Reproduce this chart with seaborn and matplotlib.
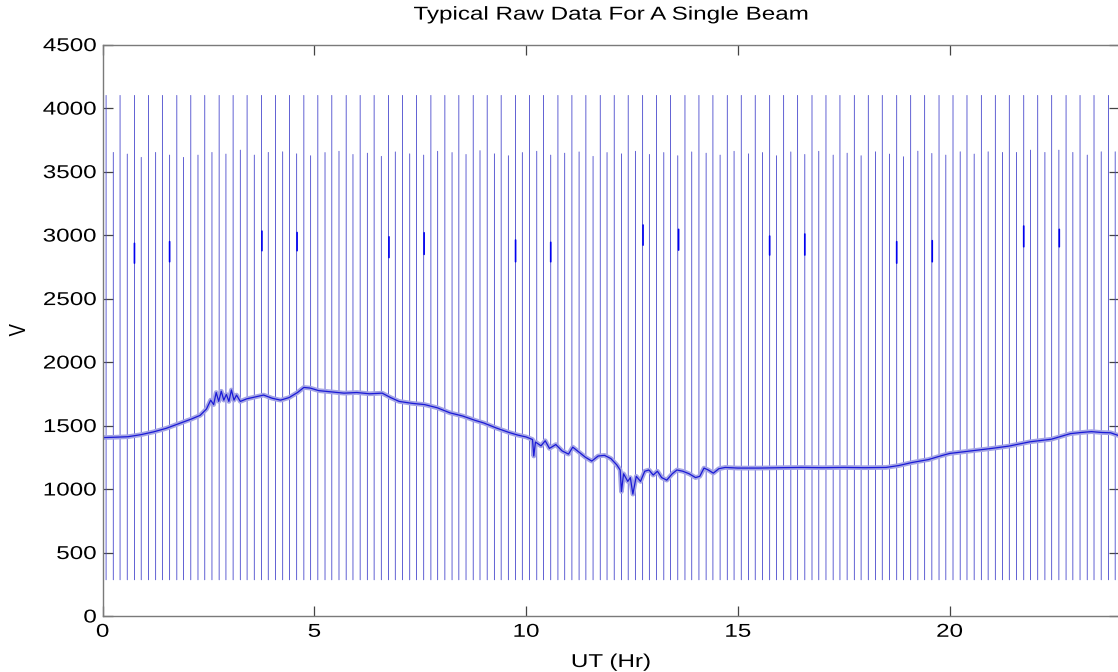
import numpy as np
import pandas as pd
import matplotlib
matplotlib.use("Agg")
import matplotlib.pyplot as plt
import seaborn as sns
from matplotlib import patheffects
from matplotlib.transforms import Affine2D

# ---------------- data ----------------
base_t = [0.0, 0.3, 0.6, 0.9, 1.2, 1.5, 1.8, 2.1, 2.3, 2.45,
          2.55, 2.62, 2.68, 2.74, 2.80, 2.86, 2.92, 2.98, 3.04, 3.10,
          3.16, 3.25, 3.4, 3.6, 3.8, 4.0, 4.2, 4.4, 4.6, 4.75,
          4.9, 5.1, 5.4, 5.7, 6.0, 6.3, 6.6, 6.8, 7.0, 7.3,
          7.6, 7.9, 8.2, 8.5, 8.8, 9.0, 9.3, 9.6, 9.8, 10.0,
          10.15, 10.18, 10.22, 10.35, 10.45, 10.55, 10.7, 10.85, 11.0, 11.1,
          11.25, 11.4, 11.55, 11.7, 11.85, 12.0, 12.14, 12.22, 12.25, 12.3,
          12.4, 12.46, 12.52, 12.6, 12.7, 12.8, 12.9, 13.0, 13.1, 13.2,
          13.32, 13.45, 13.56, 13.7, 13.85, 14.0, 14.1, 14.2, 14.3, 14.42,
          14.55, 14.7, 15.0, 15.5, 16.0, 16.5, 17.0, 17.5, 18.0, 18.5,
          18.8, 19.1, 19.5, 19.8, 20.0, 20.5, 21.0, 21.4, 21.9, 22.4,
          22.85, 23.1, 23.35, 23.6, 23.8, 24.0]
base_v = [1405, 1408, 1412, 1428, 1450, 1478, 1515, 1552, 1580, 1630,
          1700, 1665, 1760, 1690, 1770, 1700, 1745, 1690, 1780, 1700,
          1740, 1690, 1710, 1725, 1740, 1715, 1700, 1720, 1760, 1800,
          1795, 1775, 1765, 1755, 1760, 1750, 1755, 1720, 1690, 1675,
          1665, 1640, 1600, 1575, 1540, 1520, 1480, 1445, 1425, 1410,
          1390, 1260, 1370, 1340, 1380, 1320, 1350, 1300, 1275, 1330,
          1290, 1250, 1220, 1260, 1265, 1240, 1190, 1150, 980, 1120,
          1060, 1090, 960, 1100, 1060, 1140, 1150, 1110, 1140, 1090,
          1070, 1120, 1150, 1140, 1120, 1090, 1100, 1165, 1150, 1125,
          1160, 1170, 1165, 1165, 1168, 1170, 1168, 1170, 1168, 1170,
          1185, 1208, 1232, 1262, 1280, 1300, 1320, 1338, 1372, 1392,
          1436, 1445, 1452, 1445, 1443, 1420]

tall_t = [0.08, 0.41, 0.75, 1.08, 1.41, 1.75, 2.08, 2.41, 2.75, 3.08, 3.41, 3.75,
          4.08, 4.41, 4.75, 5.08, 5.41, 5.75, 6.08, 6.41, 6.75, 7.08, 7.41, 7.75,
          8.08, 8.41, 8.75, 9.08, 9.41, 9.75, 10.08, 10.41, 10.75, 11.08, 11.41, 11.75,
          12.08, 12.41, 12.75, 13.08, 13.41, 13.75, 14.08, 14.41, 14.75, 15.08, 15.41, 15.75,
          16.08, 16.41, 16.75, 17.08, 17.41, 17.75, 18.08, 18.41, 18.75, 19.08, 19.41, 19.75,
          20.08, 20.41, 20.75, 21.08, 21.41, 21.75, 22.08, 22.41, 22.75, 23.08, 23.41, 23.75]
short_t = [0.25, 0.58, 0.91, 1.25, 1.58, 1.91, 2.25, 2.58, 2.91, 3.25, 3.58, 3.91,
           4.25, 4.58, 4.91, 5.25, 5.58, 5.91, 6.25, 6.58, 6.91, 7.25, 7.58, 7.91,
           8.25, 8.58, 8.91, 9.25, 9.58, 9.91, 10.25, 10.58, 10.91, 11.25, 11.58, 11.91,
           12.25, 12.58, 12.91, 13.25, 13.58, 13.91, 14.25, 14.58, 14.91, 15.25, 15.58, 15.91,
           16.25, 16.58, 16.91, 17.25, 17.58, 17.91, 18.25, 18.58, 18.91, 19.25, 19.58, 19.91,
           20.25, 20.58, 20.91, 21.25, 21.58, 21.91, 22.25, 22.58, 22.91, 23.25, 23.58, 23.91]
tall_top = [4100] * 72
short_top = [3651, 3638, 3612, 3651, 3630, 3612, 3630, 3651, 3638, 3669, 3630, 3651,
             3656, 3640, 3625, 3650, 3660, 3635, 3645, 3620, 3655, 3640, 3630, 3660,
             3650, 3635, 3665, 3640, 3625, 3650, 3660, 3630, 3645, 3655, 3620, 3650,
             3640, 3660, 3635, 3650, 3625, 3655, 3645, 3630, 3660, 3640, 3650, 3625,
             3655, 3635, 3660, 3630, 3645, 3625, 3656, 3638, 3617, 3661, 3643, 3630,
             3656, 3638, 3656, 3651, 3651, 3669, 3651, 3669, 3651, 3630, 3656, 3656]
spike_bottom = 285

event_t = [0.75, 1.58, 3.76, 4.59, 6.76, 7.59, 9.75, 10.58,
           12.76, 13.60, 15.75, 16.58, 18.75, 19.59, 21.75, 22.59]
event_lo = [2779, 2790, 2877, 2877, 2823, 2848, 2790, 2790,
            2921, 2882, 2843, 2843, 2779, 2790, 2908, 2908]
event_hi = [2935, 2948, 3031, 3020, 2986, 3018, 2961, 2943,
            3079, 3045, 2992, 3008, 2948, 2956, 3071, 3045]

x_ticks = [0, 5, 10, 15, 20]
y_ticks = [0, 500, 1000, 1500, 2000, 2500, 3000, 3500, 4000, 4500]
title = "Typical Raw Data For A Single Beam"
x_label = "UT (Hr)"
y_label = "V"

# ---------------- helpers ----------------
class Stretch(patheffects.AbstractPathEffect):
    """Stretch text glyphs along one local axis (reference text is wide)."""
    def __init__(self, s=1.3, anchor="center", axis="x"):
        super().__init__()
        self.s, self.anchor, self.axis = s, anchor, axis

    def draw_path(self, renderer, gc, tpath, affine, rgbFace=None):
        ext = tpath.get_extents()
        if self.axis == "x":
            a = {"center": (ext.x0 + ext.x1) / 2, "right": ext.x1, "left": ext.x0}[self.anchor]
            pre = Affine2D().translate(-a, 0).scale(self.s, 1).translate(a, 0)
        else:
            pre = Affine2D().scale(1, self.s)
        renderer.draw_path(gc, tpath, pre + affine, rgbFace)


# ---------------- frames ----------------
spike_rows = []
uid = 0
for t, top in list(zip(tall_t, tall_top)) + list(zip(short_t, short_top)):
    spike_rows.append((uid, t, spike_bottom))
    spike_rows.append((uid, t, top))
    uid += 1
spikes = pd.DataFrame(spike_rows, columns=["id", "t", "v"])

ev_rows = []
for i, (t, lo, hi) in enumerate(zip(event_t, event_lo, event_hi)):
    ev_rows.append((i, t, lo))
    ev_rows.append((i, t, hi))
events = pd.DataFrame(ev_rows, columns=["id", "t", "v"])

base = pd.DataFrame({"t": base_t, "v": base_v})

# ---------------- plot ----------------
sns.set_theme(style="white")
plt.rcParams["font.family"] = ["Liberation Sans", "DejaVu Sans"]

W, H = 1118, 672
fig = plt.figure(figsize=(W / 100, H / 100), dpi=100)
ax = fig.add_axes([102.7 / W, (H - 616) / H, (1119 - 102.7) / W, (616 - 44.6) / H])

sns.lineplot(data=spikes, x="t", y="v", units="id", estimator=None, sort=False,
             color="#4646cc", linewidth=0.6, snap=False, ax=ax, legend=False)
sns.lineplot(data=events, x="t", y="v", units="id", estimator=None, sort=False,
             color="#0000f0", linewidth=1.2, snap=False, ax=ax, legend=False)
sns.lineplot(data=base, x="t", y="v", estimator=None, sort=False,
             color="#a4a4e6", linewidth=3.4, ax=ax, legend=False)
sns.lineplot(data=base, x="t", y="v", estimator=None, sort=False,
             color="#1a1ad6", linewidth=0.9, ax=ax, legend=False)

ax.set_xlim(0, 24)
ax.set_ylim(0, 4500)
ax.set_xticks(x_ticks)
ax.set_yticks(y_ticks)
ax.set_xticklabels([str(v) for v in x_ticks])
ax.set_yticklabels([str(v) for v in y_ticks])

fs = 13.4
ax.tick_params(axis="both", direction="in", length=7.2, width=0.9, color="#444444",
               labelsize=fs, labelcolor="black")
ax.tick_params(axis="x", top=True, bottom=True, pad=5.6)
ax.tick_params(axis="y", left=True, right=True, pad=4.3)

for sp in ax.spines.values():
    sp.set_visible(True)
    sp.set_color("#7a7a7a")
    sp.set_linewidth(1.0)

for lab in ax.get_yticklabels():
    lab.set_path_effects([Stretch(1.3, "right")])
for lab in ax.get_xticklabels():
    lab.set_path_effects([Stretch(1.3, "center")])

ax.set_title(title, fontsize=fs, color="black", pad=18,
             path_effects=[Stretch(1.3, "center")])
ax.set_xlabel(x_label, fontsize=fs, color="black",
              path_effects=[Stretch(1.3, "center")])
ax.set_ylabel(y_label, fontsize=fs, color="black",
              path_effects=[Stretch(1.25, axis="y")])
ax.xaxis.set_label_coords(0.5, -0.0665)
ax.yaxis.set_label_coords(-0.0725, 0.5)

fig.savefig("out.png", dpi=100, facecolor="white")
